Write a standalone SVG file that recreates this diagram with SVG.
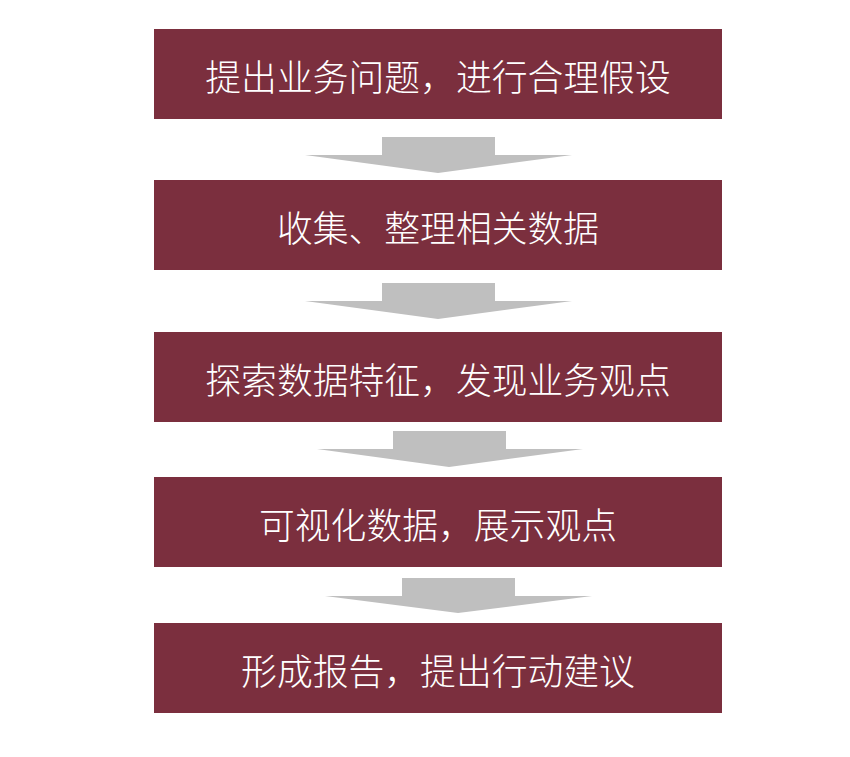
<svg xmlns="http://www.w3.org/2000/svg" width="850" height="757" viewBox="0 0 850 757">
<style>
.box{fill:#7B2F3E;}
.lbl{fill:#FFFFFF;font-family:"Noto Sans CJK SC","Noto Sans",sans-serif;font-size:35.8px;font-weight:300;text-anchor:middle;dominant-baseline:central;}
.arr{fill:#BFBFBF;}
</style>
<rect width="850" height="757" fill="#FFFFFF"/>
<g id="connectors">
<polygon class="arr" points="382,137 495,137 495,155 572,155 438,173 305,155 382,155"/>
<polygon class="arr" points="382,283 495,283 495,301 572,301 438,319 305,301 382,301"/>
<polygon class="arr" points="393,431 506,431 506,449 583,449 449,467 317,449 393,449"/>
<polygon class="arr" points="402,578 515,578 515,596 592,596 458,613 325,596 402,596"/>
</g>
<g id="node1"><rect class="box" x="154" y="29" width="568" height="90"/><text class="lbl" x="438" y="75">提出业务问题，进行合理假设</text></g>
<g id="node2"><rect class="box" x="154" y="180" width="568" height="90"/><text class="lbl" x="438" y="226">收集、整理相关数据</text></g>
<g id="node3"><rect class="box" x="154" y="332" width="568" height="90"/><text class="lbl" x="438" y="378">探索数据特征，发现业务观点</text></g>
<g id="node4"><rect class="box" x="154" y="477" width="568" height="90"/><text class="lbl" x="438" y="523">可视化数据，展示观点</text></g>
<g id="node5"><rect class="box" x="154" y="623" width="568" height="90"/><text class="lbl" x="438" y="669">形成报告，提出行动建议</text></g>
</svg>
